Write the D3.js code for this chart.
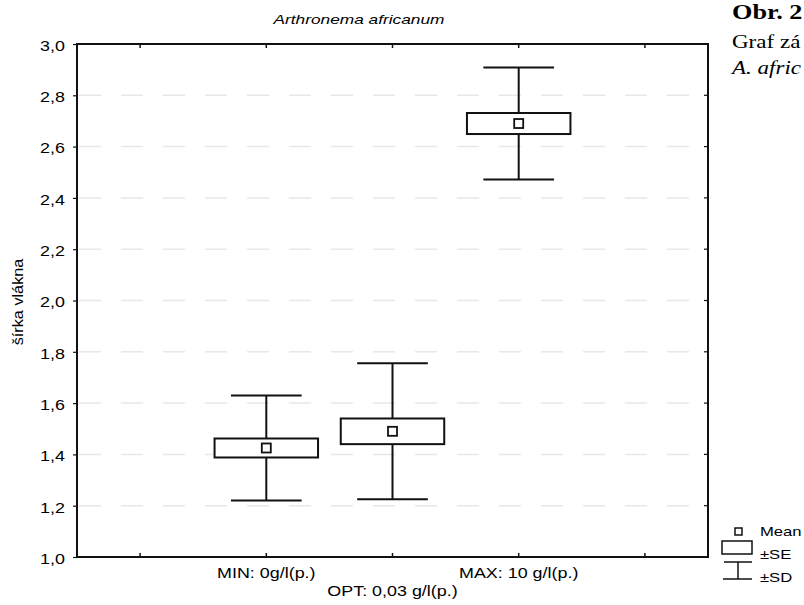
<!DOCTYPE html>
<html>
<head>
<meta charset="utf-8">
<script src="https://cdn.jsdelivr.net/npm/d3@7/dist/d3.min.js"></script>
<style>
  html, body { margin: 0; padding: 0; background: #fff; }
  svg { display: block; }
  text { font-family: "Liberation Sans", Arial, sans-serif; fill: #000; }
  .serif { font-family: "Liberation Serif", "Times New Roman", serif; }
</style>
</head>
<body>
<svg id="chart" width="804" height="605"></svg>
<script>
// Filament width of Arthronema africanum at three salinity levels
const categories = ["MIN: 0g/l(p.)", "OPT: 0,03 g/l(p.)", "MAX: 10 g/l(p.)"];
const means = [1.425, 1.49, 2.69];
const se = [0.037, 0.05, 0.041];
const sd = [0.205, 0.265, 0.218];
const yTicks = [1.0, 1.2, 1.4, 1.6, 1.8, 2.0, 2.2, 2.4, 2.6, 2.8, 3.0];
const frameTicks = [-1, 0, 1, 2, 3];
const legendItems = ["Mean", "±SE", "±SD"];
const captionLines = ["Obr. 2", "Graf zá", "A. afric"];

const svg = d3.select("#chart");
const pLeft = 77, pRight = 708, pTop = 44, pBottom = 557;
const STRETCH = 1.28;   // glyphs in this figure are set wide

const x = d3.scaleLinear().domain([-1.5, 3.5]).range([pLeft, pRight]);
const y = d3.scaleLinear().domain([1.0, 3.0]).range([pBottom, pTop]);
const fmt = d => d.toFixed(1).replace(".", ",");

function stretch(sel) {
  sel.each(function () {
    const t = d3.select(this);
    const tx = +t.attr("x") || 0, ty = +t.attr("y") || 0;
    t.attr("transform", `translate(${tx},${ty}) scale(${STRETCH},1) translate(${-tx},${-ty})`);
  });
}

// faint horizontal grid
svg.append("g").selectAll("line")
  .data(yTicks.slice(1, -1)).join("line")
  .attr("x1", pLeft + 2).attr("x2", pRight - 2)
  .attr("y1", d => y(d)).attr("y2", d => y(d))
  .attr("stroke", "#e8e8e8").attr("stroke-width", 1.5)
  .attr("stroke-dasharray", "22,20");

// left axis with outward ticks
const yAxis = svg.append("g").attr("transform", `translate(${pLeft},0)`)
  .call(d3.axisLeft(y).tickValues(yTicks).tickFormat(fmt).tickSize(4).tickPadding(8));
yAxis.select(".domain").remove();
yAxis.selectAll("line").attr("stroke", "#111").attr("stroke-width", 1.2);
yAxis.selectAll("text").attr("font-size", 14).attr("dy", "0.45em").style("fill", "#000");
stretch(yAxis.selectAll("text"));

// right frame ticks (inward)
svg.append("g").selectAll("line").data(yTicks).join("line")
  .attr("x1", pRight).attr("x2", pRight - 4)
  .attr("y1", d => y(d)).attr("y2", d => y(d))
  .attr("stroke", "#111").attr("stroke-width", 1.2);

// top and bottom frame ticks (inward)
svg.append("g").selectAll("line").data(frameTicks).join("line")
  .attr("x1", d => x(d)).attr("x2", d => x(d))
  .attr("y1", pTop).attr("y2", pTop + 4)
  .attr("stroke", "#111").attr("stroke-width", 1.5);
svg.append("g").selectAll("line").data(frameTicks).join("line")
  .attr("x1", d => x(d)).attr("x2", d => x(d))
  .attr("y1", pBottom).attr("y2", pBottom - 4)
  .attr("stroke", "#111").attr("stroke-width", 1.5);

// plot frame
svg.append("rect")
  .attr("x", pLeft).attr("y", pTop)
  .attr("width", pRight - pLeft).attr("height", pBottom - pTop)
  .attr("fill", "none").attr("stroke", "#111").attr("stroke-width", 2);

// box plots: whiskers = mean ± SD, box = mean ± SE, square = mean
const boxHalf = 0.41, capHalf = 0.28;
const g = svg.append("g").selectAll("g").data(means.map((m, i) => i)).join("g");

g.append("line")
  .attr("x1", i => x(i)).attr("x2", i => x(i))
  .attr("y1", i => y(means[i] + sd[i])).attr("y2", i => y(means[i] - sd[i]))
  .attr("stroke", "#111").attr("stroke-width", 2);
g.append("line")
  .attr("x1", i => x(i - capHalf)).attr("x2", i => x(i + capHalf))
  .attr("y1", i => y(means[i] + sd[i])).attr("y2", i => y(means[i] + sd[i]))
  .attr("stroke", "#111").attr("stroke-width", 2);
g.append("line")
  .attr("x1", i => x(i - capHalf)).attr("x2", i => x(i + capHalf))
  .attr("y1", i => y(means[i] - sd[i])).attr("y2", i => y(means[i] - sd[i]))
  .attr("stroke", "#111").attr("stroke-width", 2);
g.append("rect")
  .attr("x", i => x(i - boxHalf)).attr("width", i => x(i + boxHalf) - x(i - boxHalf))
  .attr("y", i => y(means[i] + se[i])).attr("height", i => y(means[i] - se[i]) - y(means[i] + se[i]))
  .attr("fill", "#fff").attr("stroke", "#111").attr("stroke-width", 2);
g.append("rect")
  .attr("x", i => x(i) - 4.5).attr("y", i => y(means[i]) - 4.5)
  .attr("width", 9).attr("height", 9)
  .attr("fill", "#fff").attr("stroke", "#111").attr("stroke-width", 1.8);

// category labels, alternating rows
const xl = svg.append("g").selectAll("text").data(categories).join("text")
  .attr("x", (d, i) => x(i)).attr("y", (d, i) => i % 2 ? 596 : 578)
  .attr("text-anchor", "middle").attr("font-size", 14)
  .text(d => d);
stretch(xl);

// title
stretch(svg.append("text").attr("x", 359).attr("y", 24)
  .attr("text-anchor", "middle").attr("font-size", 13.5).attr("font-style", "italic")
  .text("Arthronema africanum"));

// y axis title
svg.append("text")
  .attr("transform", "translate(23,302) rotate(-90) scale(1.16,1)")
  .attr("text-anchor", "middle").attr("font-size", 14)
  .text("šírka vlákna");

// legend
const lx = 722, ly = 527;
svg.append("rect").attr("x", lx + 13).attr("y", ly + 1).attr("width", 7).attr("height", 7)
  .attr("fill", "#fff").attr("stroke", "#111").attr("stroke-width", 1.5);
svg.append("rect").attr("x", lx).attr("y", ly + 14).attr("width", 30).attr("height", 13)
  .attr("fill", "#fff").attr("stroke", "#111").attr("stroke-width", 1.5);
svg.append("line").attr("x1", lx + 2).attr("x2", lx + 30).attr("y1", ly + 35).attr("y2", ly + 35)
  .attr("stroke", "#111").attr("stroke-width", 1.5);
svg.append("line").attr("x1", lx + 16).attr("x2", lx + 16).attr("y1", ly + 35).attr("y2", ly + 52)
  .attr("stroke", "#111").attr("stroke-width", 1.5);
svg.append("line").attr("x1", lx + 1).attr("x2", lx + 30).attr("y1", ly + 52).attr("y2", ly + 52)
  .attr("stroke", "#111").attr("stroke-width", 1.5);
const lt = svg.append("g").selectAll("text").data(legendItems).join("text")
  .attr("x", 760).attr("y", (d, i) => ly + 9 + i * 23)
  .attr("font-size", 13).text(d => d);
stretch(lt);

// caption running beside the figure
const cap = svg.append("g").selectAll("text").data(captionLines).join("text")
  .attr("class", "serif").attr("x", 732)
  .attr("y", (d, i) => [19, 48, 74][i])
  .attr("font-size", (d, i) => i === 0 ? 20.5 : 18)
  .attr("font-weight", (d, i) => i === 0 ? "bold" : "normal")
  .attr("font-style", (d, i) => i === 2 ? "italic" : "normal")
  .text(d => d);
stretch(cap);
</script>
</body>
</html>
